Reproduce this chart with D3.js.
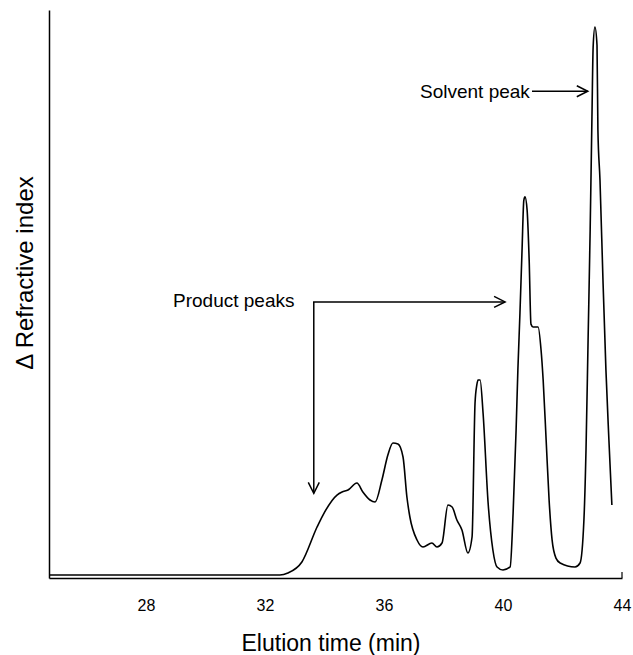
<!DOCTYPE html>
<html>
<head>
<meta charset="utf-8">
<script src="https://cdn.jsdelivr.net/npm/d3@7"></script>
<style>
  body { margin: 0; background: #fff; }
  svg { display: block; }
  text { font-family: "Liberation Sans", Arial, sans-serif; fill: #000; }
</style>
</head>
<body>
<div id="chart"></div>
<script>
// elution time (min) and detector signal (relative units)
const times = [24.74, 32.5, 32.77, 33.24, 33.75, 33.95, 34.42, 34.59, 34.79, 35.09, 35.29, 35.53, 35.70,
  35.93, 36.13, 36.30, 36.47, 36.64, 36.77, 36.87, 37.11, 37.31, 37.61, 37.78, 37.95, 38.15, 38.29,
  38.45, 38.62, 38.82, 38.96, 39.06, 39.12, 39.16, 39.23, 39.33, 39.50, 39.66, 39.80, 40.00, 40.24,
  40.34, 40.44, 40.50, 40.57, 40.64, 40.70, 40.74, 40.81, 40.88, 40.94, 41.01, 41.18, 41.28, 41.35,
  41.45, 41.55, 41.65, 41.78, 41.92, 42.42, 42.59, 42.72, 42.79, 42.86, 42.93, 42.99, 43.03, 43.09,
  43.16, 43.19, 43.26, 43.36, 43.46, 43.56, 43.66];
const signal = [0.53, 0.53, 0.88, 2.82, 8.98, 11.09, 14.61, 15.14, 15.49, 16.73, 15.14, 13.73, 13.38,
  17.25, 21.65, 23.77, 23.59, 21.30, 14.26, 10.74, 6.69, 5.46, 6.16, 5.46, 6.16, 12.85, 12.50,
  10.21, 8.45, 4.40, 7.22, 30.81, 34.0, 34.86, 34.86, 29.05, 13.20, 4.93, 1.94, 1.41, 1.94,
  11.44, 26.0, 36.6, 46.65, 57.7, 66.5, 67.1, 64.8, 55.9, 44.7, 44.2, 44.19, 40.1, 34.86,
  24.3, 13.7, 6.7, 3.5, 2.64, 1.94, 2.64, 10.2, 22.5, 41.9, 61.3, 81.2, 93.5, 97.0,
  93.8, 78.9, 70.07, 52.5, 36.6, 24.3, 12.85];
const xTicks = [28, 32, 36, 40, 44];

const width = 633, height = 655;
const margin = {top: 10, right: 11, bottom: 77, left: 49};

const svg = d3.select('#chart').append('svg').attr('width', width).attr('height', height);

const x = d3.scaleLinear().domain([24.74, 44]).range([margin.left, width - margin.right]);
const y = d3.scaleLinear().domain([0, 100]).range([height - margin.bottom, margin.top]);

const data = times.map((t, i) => ({t: t, v: signal[i]}));

// trace
const line = d3.line().x(d => x(d.t)).y(d => y(d.v)).curve(d3.curveMonotoneX);
svg.append('path').datum(data).attr('d', line)
  .attr('fill', 'none').attr('stroke', '#000').attr('stroke-width', 1.6);

// axes
const xAxis = d3.axisBottom(x).tickValues(xTicks).tickSize(0).tickPadding(22).tickFormat(d3.format('d'));
const gx = svg.append('g').attr('transform', `translate(0,${y(0)})`).call(xAxis);
gx.select('.domain').attr('stroke-width', 1.5);
gx.selectAll('text').style('font-size', '16px').style('font-family', '"Liberation Sans", Arial, sans-serif');
svg.append('line').attr('x1', x(44)).attr('x2', x(44)).attr('y1', y(0)).attr('y2', y(0) - 6)
  .attr('stroke', '#000').attr('stroke-width', 1.2);

const gy = svg.append('g').attr('transform', `translate(${margin.left},0)`)
  .call(d3.axisLeft(y).tickValues([]).tickSizeOuter(0));
gy.select('.domain').attr('stroke-width', 1.5);

svg.append('text').attr('x', 331).attr('y', 651).attr('text-anchor', 'middle')
  .style('font-size', '23px').text('Elution time (min)');
svg.append('text').attr('transform', 'translate(33,273) rotate(-90)').attr('text-anchor', 'middle')
  .style('font-size', '24px').text('\u0394 Refractive index');

// annotations
function arrowHead(px, py, dir) {
  const s = 11, w = 5.5;
  let d;
  if (dir === 'right') d = `M${px - s},${py - w}L${px},${py}L${px - s},${py + w}`;
  else d = `M${px - w},${py - s}L${px},${py}L${px + w},${py - s}`;
  svg.append('path').attr('d', d).attr('fill', 'none').attr('stroke', '#000').attr('stroke-width', 1.5);
}

svg.append('path').attr('d', `M${x(33.64)},${y(14.9)}V${y(48.6)}H${x(40.07)}`)
  .attr('fill', 'none').attr('stroke', '#000').attr('stroke-width', 1.5);
arrowHead(x(40.07), y(48.6), 'right');
arrowHead(x(33.64), y(14.9), 'down');
svg.append('text').attr('x', 173).attr('y', 307).style('font-size', '19px').text('Product peaks');

svg.append('line').attr('x1', 532).attr('x2', x(42.85)).attr('y1', y(85.7)).attr('y2', y(85.7))
  .attr('stroke', '#000').attr('stroke-width', 1.5);
arrowHead(x(42.85), y(85.7), 'right');
svg.append('text').attr('x', 420).attr('y', 98).style('font-size', '19px').text('Solvent peak');
</script>
</body>
</html>
